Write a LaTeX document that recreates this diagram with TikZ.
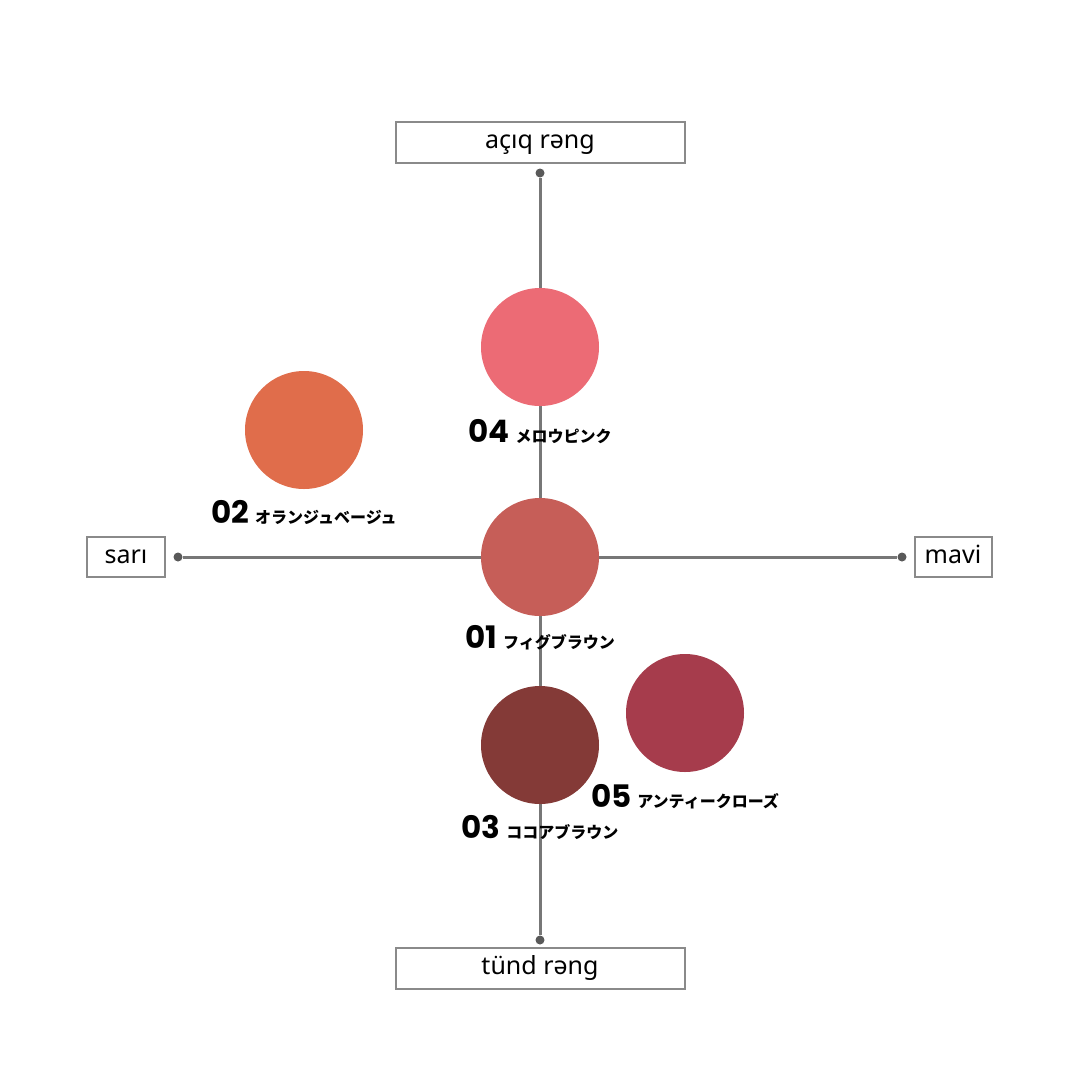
\documentclass[tikz,border=0pt]{standalone}
\usepackage{fontspec}
\setmainfont{Noto Sans}
\newfontfamily\numfont{Poppins}
\newfontfamily\jpfont{Noto Sans CJK JP}
\usetikzlibrary{positioning}
\definecolor{pink04}{HTML}{EC6B75}
\definecolor{orange02}{HTML}{E06D4B}
\definecolor{fig01}{HTML}{C65E58}
\definecolor{cocoa03}{HTML}{843A37}
\definecolor{rose05}{HTML}{A63C4C}
\definecolor{axisgray}{HTML}{777777}
\definecolor{boxgray}{HTML}{8A8A8A}
\newcommand\shadetag[2]{{\numfont\bfseries\fontsize{31}{32}\selectfont #1}\hspace{6pt}{\jpfont\bfseries\fontsize{16}{18}\selectfont #2}}

\begin{document}
\begin{tikzpicture}[x=1pt,y=-1pt,
  axisbox/.style={draw=boxgray,line width=2pt,fill=white,inner sep=0pt,
    text height=18pt,text depth=5pt,font=\fontsize{25}{30}\selectfont},
  axisdot/.style={circle,fill=black!65,inner sep=0pt,minimum size=9pt},
  swatch/.style={circle,inner sep=0pt,minimum size=118pt},
  tag/.style={anchor=base,inner sep=0pt}]
\useasboundingbox[fill=white] (0,0) rectangle (1080,1080);
% ends of the axes
\node [axisbox,minimum width=289pt,minimum height=41pt] (light) at (540,142) {açıq rəng};
\node [axisbox,minimum width=289pt,minimum height=41pt] (dark) at (540,968) {tünd rəng};
\node [axisbox,minimum width=78pt,minimum height=40pt] (yellow) at (126,557) {sarı};
\node [axisbox,minimum width=77pt,minimum height=40pt] (blue) at (953,557) {mavi};
\node [axisdot] (dtop) at (540,173) {};
\node [axisdot] (dbot) at (540,940) {};
\node [axisdot] (dleft) at (178,557) {};
\node [axisdot] (dright) at (902,557) {};
\draw [axisgray,line width=3pt] (dtop) -- (dbot);
\draw [axisgray,line width=3pt] (dleft) -- (dright);
% colour swatches
\node [swatch,fill=pink04] (c04) at (540,347) {};
\node [swatch,fill=orange02] (c02) at (304,430) {};
\node [swatch,fill=fig01] (c01) at (540,557) {};
\node [swatch,fill=cocoa03] (c03) at (540,745) {};
\node [swatch,fill=rose05] (c05) at (685,713) {};
\node [tag] (t04) at (540,442) {\shadetag{04}{メロウピンク}};
\node [tag] (t02) at (304,523) {\shadetag{02}{オランジュベージュ}};
\node [tag] (t01) at (540,648) {\shadetag{01}{フィグブラウン}};
\node [tag] (t05) at (685,807) {\shadetag{05}{アンティークローズ}};
\node [tag] (t03) at (540,838) {\shadetag{03}{ココアブラウン}};
\end{tikzpicture}
\end{document}
